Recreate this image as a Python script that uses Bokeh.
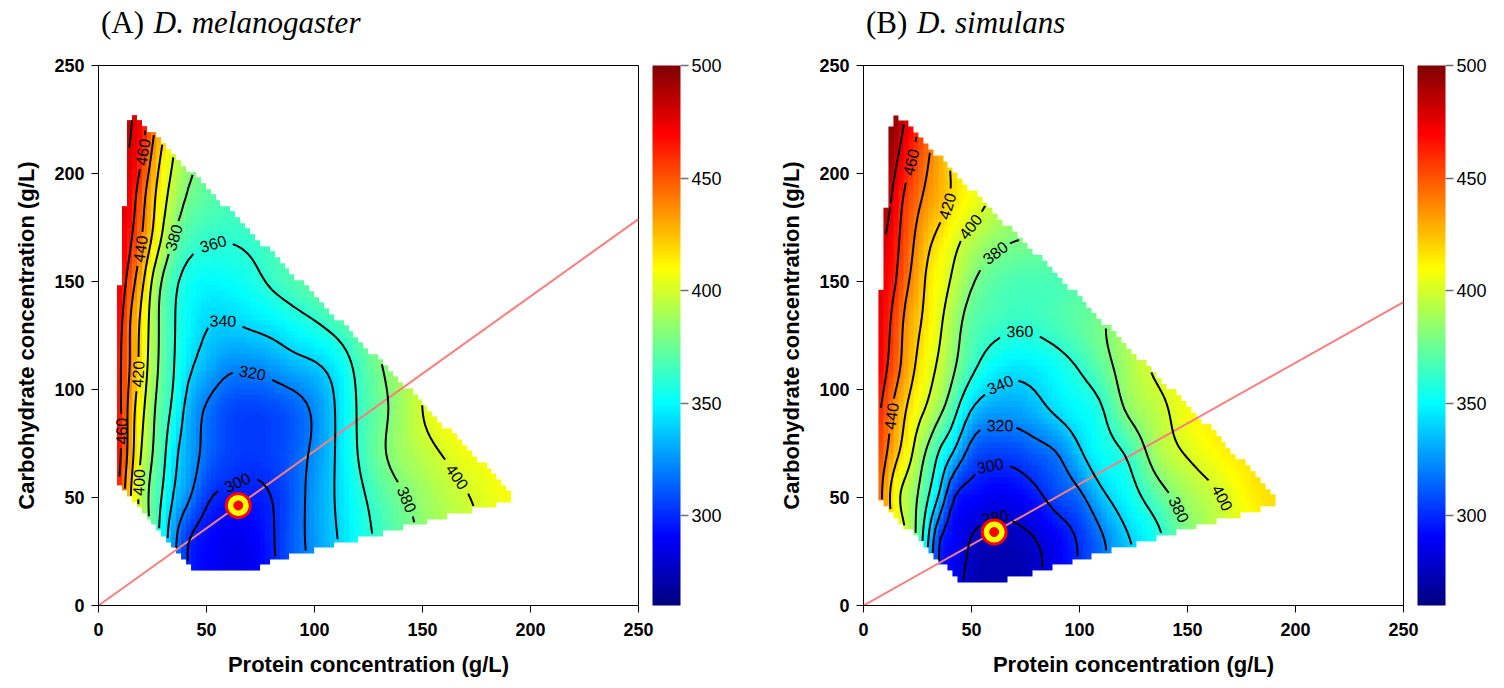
import numpy as np
import contourpy
from bokeh.plotting import figure
from bokeh.models import (Range1d, LinearColorMapper, ColorBar, FixedTicker, Div,
                          ColumnDataSource)
from bokeh.layouts import row, column
from bokeh.embed import file_html
from bokeh.resources import INLINE
from bokeh.core.properties import value

# ---------------- data ----------------
# surface values on a coarse node grid (rows: carbohydrate, columns: protein)
P_NODES = [5, 10, 15, 20, 25, 30, 35, 40, 50, 60, 70, 80, 90, 100, 110, 120, 135, 150, 165, 180, 195]
C_NODES = [10, 30, 50, 70, 90, 110, 130, 150, 170, 190, 210, 230]

MEL_Z = [
    [500, 470, 440, 410, 380, 355, 330, 308, 291, 285, 286, 296, 310, 323, 336, 349, 366, 380, 392, 402, 410],
    [490, 460, 430, 400, 375, 350, 325, 305, 292, 287, 288, 298, 312, 326, 339, 352, 368, 382, 393, 402, 410],
    [490, 455, 420, 392, 374, 357, 338, 326, 303, 297, 296, 300, 311, 327, 341, 355, 373, 386, 396, 404, 410],
    [490, 462, 428, 398, 380, 364, 345, 333, 315, 306, 303, 305, 312, 324, 341, 360, 382, 394, 404, 411, 416],
    [490, 463, 430, 405, 384, 368, 355, 338, 318, 308, 305, 307, 312, 323, 341, 361, 381, 400, 412, 420, 425],
    [488, 462, 437, 412, 390, 372, 360, 347, 332, 323, 322, 326, 332, 337, 347, 364, 384, 400, 412, 420, 425],
    [486, 465, 438, 415, 392, 373, 361, 352, 341, 339, 342, 346, 352, 358, 366, 375, 390, 405, 415, 422, 428],
    [488, 472, 449, 425, 398, 377, 364, 356, 350, 351, 355, 362, 368, 374, 380, 386, 398, 410, 418, 425, 430],
    [490, 478, 462, 440, 418, 396, 379, 369, 362, 361, 363, 367, 372, 378, 384, 390, 400, 410, 418, 425, 430],
    [490, 482, 470, 448, 426, 406, 392, 381, 372, 369, 370, 373, 378, 383, 389, 395, 404, 412, 420, 426, 430],
    [490, 485, 478, 462, 438, 416, 400, 389, 378, 374, 374, 377, 381, 386, 391, 397, 405, 413, 420, 426, 430],
    [490, 488, 482, 470, 450, 428, 410, 397, 384, 378, 377, 380, 384, 388, 393, 398, 406, 414, 420, 426, 430],
]

SIM_Z = [
    [470, 440, 420, 400, 375, 340, 305, 290, 275, 271, 272, 278, 290, 303, 318, 335, 354, 378, 395, 408, 416],
    [470, 440, 420, 400, 375, 340, 302, 292, 279, 274, 275, 280, 290, 302, 317, 335, 354, 379, 395, 408, 416],
    [460, 432, 407, 392, 380, 360, 337, 308, 292, 287, 289, 296, 307, 316, 335, 348, 369, 388, 399, 413, 418],
    [462, 443, 424, 409, 391, 375, 358, 343, 312, 305, 306, 312, 320, 337, 351, 359, 387, 401, 411, 416, 419],
    [470, 452, 433, 419, 406, 396, 384, 371, 339, 328, 328, 334, 343, 350, 358, 378, 394, 408, 415, 418, 419],
    [480, 463, 447, 430, 417, 406, 397, 386, 364, 350, 345, 347, 353, 361, 372, 386, 402, 410, 416, 419, 420],
    [485, 467, 452, 434, 423, 413, 403, 392, 372, 365, 362, 363, 367, 372, 378, 388, 402, 410, 416, 419, 420],
    [490, 472, 460, 443, 430, 416, 408, 400, 382, 372, 368, 367, 368, 372, 378, 386, 400, 410, 416, 419, 420],
    [495, 480, 465, 450, 436, 424, 416, 408, 395, 386, 381, 380, 382, 386, 392, 398, 408, 414, 418, 420, 420],
    [500, 492, 472, 456, 445, 435, 428, 420, 408, 398, 390, 387, 388, 391, 396, 401, 410, 416, 419, 420, 420],
    [500, 498, 485, 468, 455, 442, 430, 420, 405, 395, 390, 388, 390, 393, 398, 403, 411, 416, 419, 420, 420],
    [500, 500, 495, 480, 466, 452, 440, 430, 414, 402, 395, 392, 393, 396, 400, 405, 412, 417, 419, 420, 420],
]

# extent of the predicted grid (protein min/max, carbohydrate min/max) and diet hull
MEL_GRID = [9.7, 189.9, 17.5, 225.7]
SIM_GRID = [8.05, 189.6, 12.0, 225.5]
MEL_HULL_P = [9.2, 9.2, 14.55, 15.5, 191.5, 191.5, 78.0, 74.0, 45.0]
MEL_HULL_C = [55.0, 139.2, 228.0, 228.0, 52.0, 48.5, 20.0, 16.3, 16.3]
SIM_HULL_P = [7.5, 7.5, 13.0, 14.5, 191.0, 191.0, 62.0, 45.0]
SIM_HULL_C = [48.0, 135.2, 228.0, 228.0, 51.0, 46.5, 10.5, 10.5]

# optimum (protein, carbohydrate)
MEL_OPT = [64.7, 46.3]
SIM_OPT = [60.5, 34.0]

LEVELS = [280, 300, 320, 340, 360, 380, 400, 420, 440, 460, 480]

MEL_LAB_LEVEL = [460, 440, 420, 460, 400, 380, 360, 340, 320, 300, 380, 400]
MEL_LAB_P = [18.7, 18.7, 18.7, 10.2, 18.5, 34.5, 53.4, 57.3, 70.4, 65.7, 147.2, 172.2]
MEL_LAB_C = [210, 166, 107, 81, 58, 170.5, 164, 129, 107.5, 54, 51, 63.3]

SIM_LAB_LEVEL = [460, 420, 400, 380, 360, 340, 320, 300, 280, 440, 380, 400]
SIM_LAB_P = [21, 38.7, 50.3, 63.4, 71.9, 65, 62.6, 59.6, 61.9, 13.3, 146.8, 166]
SIM_LAB_C = [206, 186, 175, 160.5, 124.2, 98.5, 81.6, 62.8, 40.3, 87.2, 44, 49.4]

AXIS_TICKS = [0, 50, 100, 150, 200, 250]
CBAR_TICKS = [300, 350, 400, 450, 500]
CBAR_LOW, CBAR_HIGH = 260, 500


# ---------------- helpers ----------------
def spline_weights(xn, xq):
    xn = np.asarray(xn, float)
    xq = np.asarray(xq, float)
    n = len(xn)
    h = np.diff(xn)
    A = np.zeros((n, n))
    B = np.zeros((n, n))
    A[0, 0] = A[-1, -1] = 1.0
    for i in range(1, n - 1):
        A[i, i - 1] = h[i - 1] / 6
        A[i, i] = (h[i - 1] + h[i]) / 3
        A[i, i + 1] = h[i] / 6
        B[i, i - 1] = 1 / h[i - 1]
        B[i, i] = -1 / h[i - 1] - 1 / h[i]
        B[i, i + 1] = 1 / h[i]
    M = np.linalg.solve(A, B)
    W = np.zeros((len(xq), n))
    for q, x in enumerate(xq):
        i = int(np.clip(np.searchsorted(xn, x) - 1, 0, n - 2))
        hi = h[i]
        a = (xn[i + 1] - x) / hi
        b = 1 - a
        W[q, i] += a
        W[q, i + 1] += b
        W[q] += (a ** 3 - a) * hi ** 2 / 6 * M[i] + (b ** 3 - b) * hi ** 2 / 6 * M[i + 1]
    return W


def inside(px, py, vx, vy):
    res = np.zeros(px.shape, bool)
    n = len(vx)
    j = n - 1
    for i in range(n):
        xi, yi, xj, yj = vx[i], vy[i], vx[j], vy[j]
        if yi != yj:
            cond = ((yi > py) != (yj > py)) & (px < (xj - xi) * (py - yi) / (yj - yi) + xi)
            res ^= cond
        j = i
    return res


def jet(n=256):
    t = np.linspace(0, 1, n)
    r = np.clip(1.5 - np.abs(4 * t - 3), 0, 1)
    g = np.clip(1.5 - np.abs(4 * t - 2), 0, 1)
    b = np.clip(1.5 - np.abs(4 * t - 1), 0, 1)
    return ["#%02x%02x%02x" % (int(round(255 * a)), int(round(255 * c)), int(round(255 * d)))
            for a, c, d in zip(r, g, b)]


PALETTE = jet()
SANS = "Liberation Sans"
SERIF = "Liberation Serif"


def panel(grid_vals, grid, hull_p, hull_c, opt, lab_lev, lab_p, lab_c, left_border, right_border):
    pmin, pmax, cmin, cmax = grid
    n = 80
    pc = np.linspace(pmin, pmax, n)
    cc = np.linspace(cmin, cmax, n)
    Zf = spline_weights(C_NODES, cc) @ np.array(grid_vals, float) @ spline_weights(P_NODES, pc).T
    PP, CC = np.meshgrid(pc, cc)
    mask = inside(PP, CC, hull_p, hull_c)
    Zm = np.where(mask, Zf, np.nan)
    dp = pc[1] - pc[0]
    dc = cc[1] - cc[0]

    mapper = LinearColorMapper(palette=PALETTE, low=CBAR_LOW, high=CBAR_HIGH, nan_color=(0, 0, 0, 0))

    p = figure(frame_width=540, frame_height=540, x_range=Range1d(0, 250), y_range=Range1d(0, 250),
               output_backend="svg", toolbar_location=None,
               min_border_left=left_border, min_border_right=right_border,
               min_border_top=23, min_border_bottom=75)
    p.grid.visible = False
    p.outline_line_color = "black"
    p.outline_line_width = 1
    p.background_fill_color = "white"
    p.border_fill_color = "white"

    p.image(image=[Zm], x=pmin - dp / 2, y=cmin - dc / 2, dw=pmax - pmin + dp, dh=cmax - cmin + dc,
            color_mapper=mapper)

    # ratio line through the optimum
    slope = opt[1] / opt[0]
    p.line(x=[0, 250], y=[0, 250 * slope], line_color="#f77f7f", line_width=2)

    # contours
    gen = contourpy.contour_generator(pc, cc, np.ma.masked_invalid(Zm), line_type="Separate")
    lines = {lev: [np.asarray(s) for s in gen.lines(lev) if len(s) > 1] for lev in LEVELS}
    cuts = {lev: [] for lev in LEVELS}
    lx, ly, la, lt = [], [], [], []
    for lev, hp, hc in zip(lab_lev, lab_p, lab_c):
        best = None
        for k, seg in enumerate(lines.get(lev, [])):
            d = np.hypot(seg[:, 0] - hp, seg[:, 1] - hc)
            i = int(np.argmin(d))
            if best is None or d[i] < best[0]:
                best = (d[i], k, i)
        if best is None:
            continue
        _, k, i = best
        seg = lines[lev][k]
        a = seg[max(i - 2, 0)]
        b = seg[min(i + 2, len(seg) - 1)]
        ang = np.arctan2(b[1] - a[1], b[0] - a[0])
        if ang > np.pi / 2:
            ang -= np.pi
        if ang <= -np.pi / 2:
            ang += np.pi
        lx.append(float(seg[i, 0]))
        ly.append(float(seg[i, 1]))
        la.append(float(ang))
        lt.append(str(lev))
        cuts[lev].append((seg[i, 0], seg[i, 1]))

    xs, ys = [], []
    R = 7.6
    for lev in LEVELS:
        for seg in lines[lev]:
            keep = np.ones(len(seg), bool)
            for (cx, cy) in cuts[lev]:
                keep &= np.hypot(seg[:, 0] - cx, seg[:, 1] - cy) > R
            start = None
            for i in range(len(seg) + 1):
                if i < len(seg) and keep[i]:
                    if start is None:
                        start = i
                else:
                    if start is not None and i - start > 1:
                        xs.append(seg[start:i, 0].tolist())
                        ys.append(seg[start:i, 1].tolist())
                    start = None
    p.multi_line(xs=xs, ys=ys, line_color="black", line_width=2)

    src = ColumnDataSource(dict(x=lx, y=ly, a=la, t=lt))
    p.text(x="x", y="y", text="t", angle="a", source=src, text_font=value(SANS),
           text_font_size="16px", text_align="center", text_baseline="middle", text_color="black")

    # optimum marker
    p.scatter(x=[opt[0]], y=[opt[1]], size=24, fill_color="yellow", line_color="red", line_width=3)
    p.scatter(x=[opt[0]], y=[opt[1]], size=9, fill_color="red", line_color="red")

    # axes
    for ax in (p.xaxis[0], p.yaxis[0]):
        ax.ticker = FixedTicker(ticks=AXIS_TICKS)
        ax.minor_tick_line_color = None
        ax.major_tick_out = 7
        ax.major_tick_in = 0
        ax.axis_line_color = "black"
        ax.major_tick_line_color = "black"
        ax.major_label_text_font = SANS
        ax.major_label_text_font_style = "bold"
        ax.major_label_text_font_size = "18px"
        ax.major_label_text_color = "black"
        ax.axis_label_text_font = SANS
        ax.axis_label_text_font_style = "bold"
        ax.axis_label_text_font_size = "22px"
        ax.axis_label_text_color = "black"
    p.xaxis.major_label_standoff = 10
    p.yaxis.major_label_standoff = 7
    p.xaxis.axis_label_standoff = 13
    p.yaxis.axis_label_standoff = 12
    p.xaxis.axis_label = "Protein concentration (g/L)"
    p.yaxis.axis_label = "Carbohydrate concentration (g/L)"

    # colour bar
    cb = ColorBar(color_mapper=mapper, ticker=FixedTicker(ticks=CBAR_TICKS), width=28, height=540,
                  location=(14, 0), padding=0, margin=0, major_tick_out=8, major_tick_in=0,
                  major_tick_line_color="#707070", major_tick_line_width=1.5,
                  major_label_text_font=SANS, major_label_text_font_size="18px",
                  major_label_text_color="black", label_standoff=3,
                  bar_line_color=None, border_line_color=None, background_fill_color=None)
    p.add_layout(cb, "right")
    return p


def title_div(tag, species, width, pad_left):
    html = ('<div style="font-family:\'Liberation Serif\',serif;font-size:31px;line-height:36px;'
            'color:black;white-space:nowrap;padding-top:5px;padding-left:%dpx">%s'
            '<i style="margin-left:2px">%s</i></div>' % (pad_left, tag, species))
    return Div(text=html, width=width, height=42, margin=(0, 0, 0, 0))


pa = panel(MEL_Z, MEL_GRID, MEL_HULL_P, MEL_HULL_C, MEL_OPT,
           MEL_LAB_LEVEL, MEL_LAB_P, MEL_LAB_C, 98, 135)
pb = panel(SIM_Z, SIM_GRID, SIM_HULL_P, SIM_HULL_C, SIM_OPT,
           SIM_LAB_LEVEL, SIM_LAB_P, SIM_LAB_C, 90, 90)

da = title_div("(A) ", "D. melanogaster", 773, 101)
db = title_div("(B) ", "D. simulans", 720, 93)

layout = row(column(da, pa, spacing=0), column(db, pb, spacing=0), spacing=0)
open("out.html", "w").write(file_html(layout, INLINE))
